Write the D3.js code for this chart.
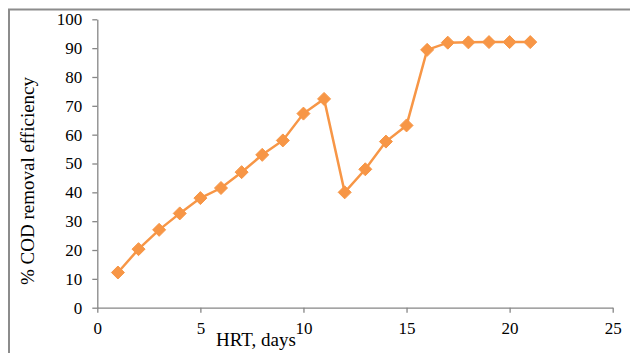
<!DOCTYPE html>
<html>
<head>
<meta charset="utf-8">
<script src="https://cdn.jsdelivr.net/npm/d3@7"></script>
<style>
  body { margin: 0; background: #fff; }
  svg { display: block; font-family: "Liberation Serif", "Times New Roman", serif; }
</style>
</head>
<body>
<svg id="chart" width="630" height="353"></svg>
<script>
'use strict';

// HRT (days) vs % COD removal efficiency
var hrt = [1, 2, 3, 4, 5, 6, 7, 8, 9, 10, 11, 12, 13, 14, 15, 16, 17, 18, 19, 20, 21];
var cod = [12.2, 20.3, 27, 32.7, 38, 41.5, 47, 53, 58, 67.3, 72.4, 40, 48, 57.6, 63.2, 89.4, 91.9, 92, 92.1, 92.1, 92.1];
var xTicks = [0, 5, 10, 15, 20, 25];
var yTicks = [0, 10, 20, 30, 40, 50, 60, 70, 80, 90, 100];

var svg = d3.select('#chart');
var orange = '#F79646';
var grey = '#868686';

// outer frame (cut off at right and bottom)
svg.append('path')
  .attr('d', 'M9,360V9.5H640')
  .attr('fill', 'none')
  .attr('stroke', '#8c8c8c')
  .attr('stroke-width', 2);

var x = d3.scaleLinear().domain([0, 25]).range([97.3, 612.7]);
var y = d3.scaleLinear().domain([0, 100]).range([307.7, 19.3]);

var xAxis = svg.append('g')
  .attr('transform', 'translate(0,' + y(0) + ')')
  .call(d3.axisBottom(x).tickValues(xTicks).tickSize(5).tickPadding(9.5).tickSizeOuter(0));
var yAxis = svg.append('g')
  .attr('transform', 'translate(' + x(0) + ',0)')
  .call(d3.axisLeft(y).tickValues(yTicks).tickSize(5).tickPadding(10).tickSizeOuter(0));

[xAxis, yAxis].forEach(function(a) {
  a.select('.domain').attr('stroke', grey).attr('stroke-width', 1.3);
  a.selectAll('.tick line').attr('stroke', grey).attr('stroke-width', 1.3);
  a.selectAll('.tick text')
    .attr('fill', '#000')
    .style('font-family', '"Liberation Serif", serif')
    .style('font-size', '17px');
});

// axis titles
svg.append('text')
  .attr('x', 256).attr('y', 346)
  .attr('text-anchor', 'middle')
  .style('font-size', '19px')
  .text('HRT, days');

svg.append('text')
  .attr('transform', 'translate(34,181) rotate(-90)')
  .attr('text-anchor', 'middle')
  .style('font-size', '19px')
  .text('% COD removal efficiency');

var pts = hrt.map(function(d, i) { return [d, cod[i]]; });

svg.append('path')
  .datum(pts)
  .attr('fill', 'none')
  .attr('stroke', orange)
  .attr('stroke-width', 2.5)
  .attr('d', d3.line().x(function(d) { return x(d[0]); }).y(function(d) { return y(d[1]); }));

svg.selectAll('.marker')
  .data(pts)
  .enter().append('path')
  .attr('class', 'marker')
  .attr('transform', function(d) { return 'translate(' + x(d[0]) + ',' + y(d[1]) + ')'; })
  .attr('d', 'M0,-6.5L6.5,0L0,6.5L-6.5,0Z')
  .attr('fill', orange)
  .attr('stroke', orange)
  .attr('stroke-width', 1)
  .attr('stroke-linejoin', 'round');
</script>
</body>
</html>
